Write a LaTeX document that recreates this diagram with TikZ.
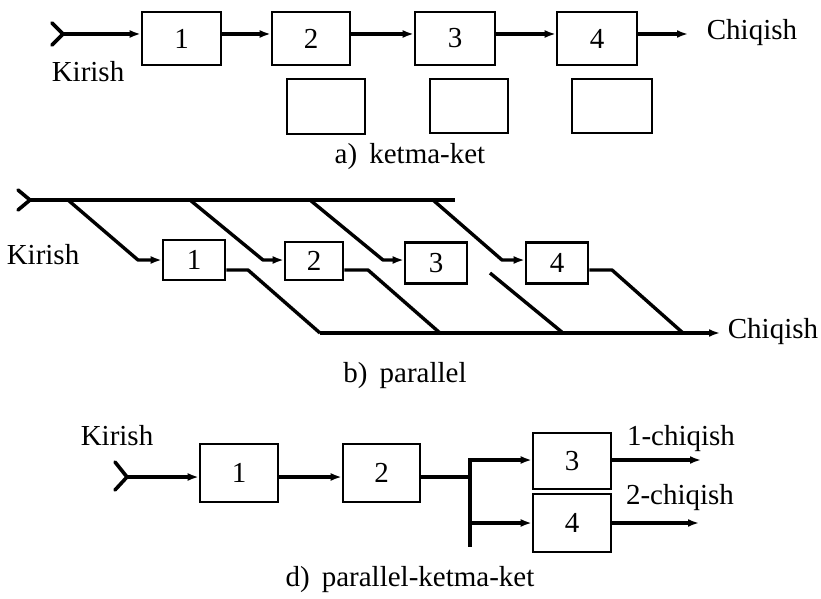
\documentclass[tikz,border=0pt]{standalone}
\usepackage{fontspec}
\setmainfont{Liberation Serif}
\usetikzlibrary{arrows.meta}
\begin{document}
\begin{tikzpicture}[x=1pt,y=-1pt,
 box/.style={draw,line width=2.6pt,inner sep=0pt,font=\fontsize{29}{31}\selectfont},
 ebox/.style={draw,line width=1.4pt,inner sep=0pt},
 lbl/.style={inner sep=0pt,font=\fontsize{29}{31}\selectfont},
 flow/.style={line width=3.4pt,-{Latex[length=11pt,width=8pt]}},
 wire/.style={line width=3.4pt,line join=round},
 fork/.style={line width=3.6pt,line cap=round}]
\useasboundingbox (0,0) rectangle (821,599);
% ---------------- a) ----------------
\node[box,minimum width=79pt,minimum height=53pt] (a1) at (181.5,38.5) {1};
\node[box,minimum width=78pt,minimum height=53pt] (a2) at (311,38.5) {2};
\node[box,minimum width=80pt,minimum height=53pt] (a3) at (455,38.5) {3};
\node[box,minimum width=80pt,minimum height=53pt] (a4) at (597,38.5) {4};
\node[ebox,minimum width=78pt,minimum height=55pt] (e2) at (326,106.5) {};
\node[ebox,minimum width=78pt,minimum height=54pt] (e3) at (469,106) {};
\node[ebox,minimum width=80pt,minimum height=54pt] (e4) at (612,106) {};
\coordinate (ain) at (63,34);
\coordinate (aout) at (688,34);
\draw[fork] (52,23) -- (ain) -- (52,45);
\draw[flow] (ain) -- (a1.west |- ain);
\draw[flow] (a1.east |- ain) -- (a2.west |- ain);
\draw[flow] (a2.east |- ain) -- (a3.west |- ain);
\draw[flow] (a3.east |- ain) -- (a4.west |- ain);
\draw[flow] (a4.east |- ain) -- (aout);
\node[lbl] (akir) at (88,72) {Kirish};
\node[lbl] (achi) at (752,33) {Chiqish};
\node[lbl] (acap) at (410,157) {a)\, ketma-ket};
% ---------------- b) ----------------
\node[box,minimum width=62pt,minimum height=40pt] (b1) at (194,260) {1};
\node[box,minimum width=58pt,minimum height=38pt] (b2) at (314,261) {2};
\node[box,minimum width=62pt,minimum height=41pt] (b3) at (436,263) {3};
\node[box,minimum width=62pt,minimum height=41pt] (b4) at (557,263) {4};
\coordinate (bin) at (30,200);
\coordinate (bend) at (455,200);
\draw[fork] (18,190) -- (bin) -- (18,210);
\draw[wire] (bin) -- (bend);
\coordinate (t1) at (68,200);  \coordinate (k1) at (138,260);
\coordinate (t2) at (190,200); \coordinate (k2) at (263,260);
\coordinate (t3) at (310,200); \coordinate (k3) at (383,260);
\coordinate (t4) at (433,200); \coordinate (k4) at (502,260);
\draw[flow,line join=round] (t1) -- (k1) -- (b1.west |- k1);
\draw[flow,line join=round] (t2) -- (k2) -- (b2.west |- k2);
\draw[flow,line join=round] (t3) -- (k3) -- (b3.west |- k3);
\draw[flow,line join=round] (t4) -- (k4) -- (b4.west |- k4);
\coordinate (o1) at (248,270); \coordinate (g1) at (320,333);
\coordinate (o2) at (368,270); \coordinate (g2) at (440,333);
\coordinate (s3) at (490,273); \coordinate (g3) at (563,333);
\coordinate (o4) at (612,270); \coordinate (g4) at (683,333);
\coordinate (bout) at (720,333);
\draw[wire] (b1.east |- o1) -- (o1) -- (g1);
\draw[wire] (b2.east |- o2) -- (o2) -- (g2);
\draw[wire] (s3) -- (g3);
\draw[wire] (b4.east |- o4) -- (o4) -- (g4);
\draw[flow] (g1) -- (bout);
\node[lbl] (bkir) at (43,255) {Kirish};
\node[lbl] (bchi) at (773,332) {Chiqish};
\node[lbl] (bcap) at (405,376) {b)\, parallel};
% ---------------- d) ----------------
\node[box,minimum width=78pt,minimum height=58pt] (d1) at (239,473) {1};
\node[box,minimum width=77pt,minimum height=58pt] (d2) at (381.5,473) {2};
\node[box,minimum width=78pt,minimum height=56pt] (d3) at (572,461) {3};
\node[box,minimum width=78pt,minimum height=58pt] (d4) at (572,523) {4};
\coordinate (din) at (127,477);
\draw[fork] (115,462) -- (din) -- (115,490);
\draw[flow] (din) -- (d1.west |- din);
\draw[flow] (d1.east |- din) -- (d2.west |- din);
\coordinate (vtop) at (470,460);
\coordinate (vmid) at (470,477);
\coordinate (vlow) at (470,523);
\coordinate (vbot) at (470,547);
\draw[wire] (d2.east |- vmid) -- (vmid);
\draw[wire,line cap=butt] (470,458.3) -- (vbot);
\draw[flow] (vtop) -- (d3.west |- vtop);
\draw[flow] (vlow) -- (d4.west |- vlow);
\coordinate (do1) at (701,460);
\coordinate (do2) at (699,523);
\draw[flow] (d3.east |- do1) -- (do1);
\draw[flow] (d4.east |- do2) -- (do2);
\node[lbl] (dkir) at (117,436) {Kirish};
\node[lbl] (dc1) at (681,439) {1-chiqish};
\node[lbl] (dc2) at (680,498) {2-chiqish};
\node[lbl] (dcap) at (410,580) {d)\, parallel-ketma-ket};
\end{tikzpicture}
\end{document}
